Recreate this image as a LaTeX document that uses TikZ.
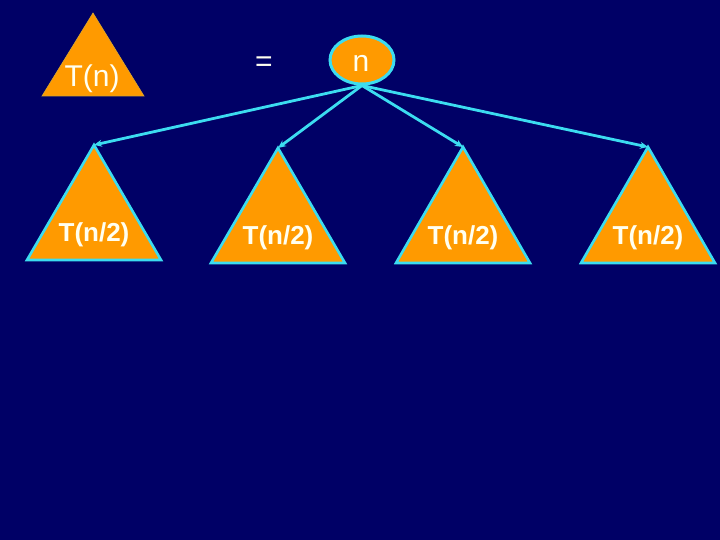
\documentclass[tikz,border=0pt]{standalone}
\usepackage{fontspec}
\setmainfont{Liberation Sans}
\usetikzlibrary{arrows.meta,shapes.geometric}
\definecolor{navy}{HTML}{000066}
\definecolor{org}{HTML}{FF9A00}
\definecolor{cyn}{HTML}{3CDCF0}
\definecolor{txt}{HTML}{FFFFF0}
\begin{document}
\begin{tikzpicture}[x=1pt,y=-1pt,
  tri/.style={fill=org,draw=cyn,line width=2.6pt,line join=miter},
  lab/.style={text=txt,font=\fontsize{26}{26}\selectfont\bfseries,inner sep=0pt},
  big/.style={text=txt,font=\fontsize{30}{30}\selectfont,inner sep=0pt},
  edge/.style={draw=cyn,line width=2.8pt,-{Stealth[length=8pt,width=7pt]}}]
\fill[navy] (0,0) rectangle (720,540);
\useasboundingbox (0,0) rectangle (720,540);
% top triangle
\fill[org] (93,13) -- (42,96) -- (144,96) -- cycle;
\draw[org!80!cyn,line width=0.6pt] (93,13) -- (42,96) -- (144,96) -- cycle;
\node[big] (tn) at (92,79) {T(n)};
\node[big] (eq) at (264,64) {=};
\node[ellipse,draw=cyn,fill=org,line width=3pt,minimum width=64pt,minimum height=48pt,inner sep=0pt,
  big] (root) at (362,60) {};
\node[big] (rl) at (361,63) {n};
% bottom triangles
\foreach \i/\cx/\ay/\by in {1/94/145/260,2/278/148/263,3/463/147/263,4/648/147/263}{
  \draw[tri] (\cx,\ay) -- (\cx-67,\by) -- (\cx+67,\by) -- cycle;
  \coordinate (a\i) at (\cx,\ay);
  \node[lab] (t\i) at (\cx,\by-25) {T(n/2)};
}
\foreach \i in {1,2,3,4}{\draw[edge] (root.south) -- (a\i);}
\end{tikzpicture}
\end{document}
